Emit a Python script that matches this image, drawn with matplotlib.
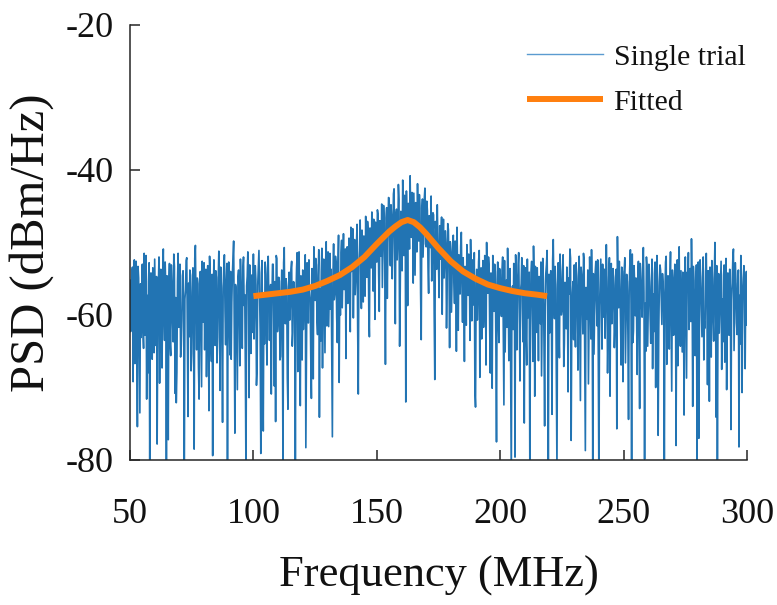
import numpy as np
import matplotlib
matplotlib.use("Agg")
import matplotlib.pyplot as plt

plt.rcParams["font.family"] = ["Liberation Serif", "DejaVu Serif"]
plt.rcParams["axes.unicode_minus"] = False

# Single-trial power spectral density (dBm/Hz), 0.25 MHz bins from 50 to 300 MHz
psd_single = [
    -55.2, -62.3, -61.8, -54.1, -53.4, -69.2, -57.9, -52.4, -66.7, -56.5, -52.6, -61.0, -75.4, -53.3, -54.9, -64.9, -73.5, -55.7, -63.1, -59.4,
    -53.0, -62.1, -64.6, -51.5, -62.8, -55.0, -51.8, -71.6, -57.3, -68.0, -55.4, -52.8, -81.0, -57.2, -54.2, -63.0, -66.1, -53.5, -56.8, -65.2,
    -52.3, -58.0, -64.2, -54.7, -77.8, -61.3, -55.9, -52.0, -69.4, -58.5, -53.7, -62.4, -67.3, -54.3, -50.9, -59.9, -63.5, -52.7, -56.3, -80.6,
    -54.6, -59.1, -77.2, -55.8, -52.9, -63.9, -65.6, -53.1, -55.6, -60.9, -63.7, -51.6, -53.3, -70.8, -57.6, -72.1, -67.9, -55.3, -51.5, -61.7,
    -58.2, -53.0, -65.8, -64.4, -60.7, -54.6, -53.9, -59.5, -84.0, -57.8, -56.6, -52.5, -52.1, -62.9, -74.0, -55.6, -63.0, -53.8, -54.5, -67.7,
    -65.3, -56.9, -53.5, -61.6, -78.5, -52.2, -50.4, -59.0, -64.8, -54.9, -55.7, -67.2, -71.6, -55.1, -54.0, -62.0, -69.9, -52.6, -61.0, -56.4,
    -52.8, -64.8, -56.9, -53.7, -68.5, -58.6, -53.2, -61.4, -73.2, -51.9, -55.3, -63.5, -66.4, -54.4, -79.4, -57.5, -52.4, -60.0, -64.2, -53.9,
    -54.8, -66.6, -63.1, -55.2, -51.2, -59.7, -70.4, -53.4, -56.0, -62.2, -74.8, -56.3, -53.6, -51.7, -59.4, -64.1, -55.5, -52.9, -82.8, -57.0,
    -52.7, -60.8, -65.5, -54.0, -66.1, -58.3, -54.3, -52.1, -49.8, -61.9, -76.3, -55.8, -56.4, -63.6, -70.3, -54.7, -53.8, -59.2, -67.0, -52.3,
    -55.8, -61.4, -64.6, -53.6, -52.0, -58.7, -57.2, -67.5, -82.5, -56.0, -54.7, -51.3, -59.2, -71.4, -53.1, -56.9, -65.3, -54.5, -56.7, -62.4,
    -51.6, -63.3, -58.7, -53.2, -55.1, -69.7, -67.4, -55.9, -53.4, -51.1, -57.0, -62.5, -79.1, -54.2, -52.5, -65.5, -76.0, -57.1, -64.0, -52.7,
    -54.4, -61.8, -66.9, -53.5, -51.9, -58.2, -63.5, -56.6, -55.8, -70.9, -58.1, -53.0, -53.0, -60.5, -69.8, -55.4, -74.7, -51.8, -52.2, -62.3,
    -60.6, -54.8, -55.3, -66.2, -65.7, -57.3, -53.8, -63.0, -81.4, -52.8, -50.7, -61.1, -61.2, -55.0, -56.5, -68.7, -73.0, -56.1, -54.1, -60.7,
    -58.5, -53.7, -52.6, -64.3, -62.4, -55.4, -55.6, -59.0, -80.2, -57.6, -53.5, -51.4, -67.8, -62.8, -51.3, -58.9, -72.5, -54.6, -55.0, -66.2,
    -53.8, -62.0, -59.3, -54.9, -51.7, -78.3, -64.9, -52.8, -55.0, -61.1, -52.4, -56.7, -57.6, -65.9, -71.5, -53.6, -54.2, -68.8, -50.6, -56.0,
    -58.0, -52.2, -53.1, -60.9, -62.7, -54.5, -51.0, -74.1, -56.4, -63.6, -54.0, -50.8, -67.3, -55.6, -52.3, -58.9, -65.2, -53.0, -49.9, -61.5,
    -55.2, -51.3, -61.6, -56.2, -51.5, -59.2, -53.7, -64.6, -76.8, -54.4, -50.2, -57.9, -57.1, -51.9, -52.8, -60.3, -63.8, -53.4, -49.0, -69.3,
    -54.6, -60.0, -51.4, -49.7, -59.0, -53.6, -48.8, -56.5, -55.7, -50.9, -66.0, -52.1, -50.6, -58.4, -53.3, -49.4, -57.8, -62.3, -47.9, -54.0,
    -52.5, -48.1, -60.4, -53.8, -49.6, -57.2, -55.1, -50.3, -47.5, -61.9, -70.9, -52.9, -51.0, -46.9, -53.9, -59.1, -48.3, -51.8, -58.2, -49.1,
    -50.9, -57.4, -46.4, -51.2, -54.8, -47.1, -48.6, -59.3, -63.0, -48.0, -49.2, -53.5, -45.8, -50.0, -56.7, -46.8, -51.6, -60.6, -47.2, -52.4,
    -52.7, -45.5, -46.1, -54.3, -59.5, -47.0, -48.0, -51.9, -44.7, -56.2, -50.4, -44.9, -47.3, -53.1, -66.8, -46.6, -45.2, -57.7, -49.7, -43.8,
    -43.9, -49.5, -53.2, -44.8, -46.5, -55.0, -48.9, -43.3, -42.6, -51.7, -61.2, -46.2, -45.4, -52.4, -50.0, -42.0, -44.1, -64.3, -56.4, -45.7,
    -47.6, -53.9, -41.4, -45.9, -51.8, -43.5, -45.0, -72.0, -42.9, -48.3, -58.7, -44.6, -46.8, -50.9, -40.8, -47.2, -49.3, -43.1, -44.3, -55.6,
    -43.2, -49.0, -54.5, -44.5, -46.0, -51.3, -41.9, -47.7, -49.8, -43.4, -45.3, -56.9, -63.4, -45.8, -44.0, -52.0, -47.9, -43.9, -42.5, -50.2,
    -50.6, -44.3, -45.6, -53.4, -57.0, -46.3, -47.4, -50.7, -43.6, -55.3, -52.2, -45.9, -46.2, -59.8, -68.9, -47.1, -48.7, -53.7, -44.8, -49.6,
    -53.0, -57.6, -47.7, -52.3, -49.5, -46.5, -59.9, -51.4, -46.8, -54.9, -52.6, -48.4, -50.1, -61.8, -55.8, -47.4, -48.2, -53.3, -64.5, -49.9,
    -51.2, -59.6, -54.7, -50.1, -49.0, -55.5, -58.4, -49.8, -52.0, -65.0, -47.9, -53.9, -62.1, -51.7, -53.6, -57.1, -50.5, -48.6, -56.0, -61.0,
    -52.1, -56.9, -66.4, -53.3, -54.9, -61.4, -50.3, -55.8, -57.3, -51.6, -53.0, -63.5, -49.6, -54.3, -60.8, -52.4, -55.4, -58.6, -51.4, -70.4,
    -72.7, -55.7, -53.7, -60.7, -57.6, -52.6, -51.1, -68.6, -55.9, -53.5, -63.3, -56.4, -52.5, -61.7, -58.9, -51.8, -54.4, -66.9, -50.0, -56.8,
    -57.0, -52.0, -53.2, -62.2, -68.0, -54.2, -55.3, -70.1, -51.8, -56.1, -59.5, -53.0, -54.0, -64.0, -77.5, -55.9, -52.7, -60.9, -63.8, -53.6,
    -54.3, -59.0, -60.2, -53.9, -52.0, -63.1, -72.4, -52.5, -65.1, -58.0, -55.2, -61.7, -50.8, -56.2, -66.3, -54.6, -53.6, -67.8, -83.0, -57.0,
    -56.0, -62.0, -52.9, -55.8, -79.6, -51.7, -54.5, -64.8, -57.8, -53.1, -51.4, -59.3, -69.1, -56.6, -55.7, -52.1, -59.0, -63.7, -53.2, -74.9,
    -57.3, -53.5, -62.9, -66.9, -52.3, -60.4, -56.4, -54.1, -80.8, -61.6, -54.0, -52.6, -58.3, -66.4, -50.5, -55.2, -71.2, -53.3, -55.5, -62.4,
    -53.5, -57.2, -66.3, -54.7, -57.7, -61.2, -52.7, -68.4, -59.6, -52.2, -55.1, -64.2, -75.3, -58.9, -54.2, -53.0, -51.1, -60.1, -81.9, -54.4,
    -62.5, -55.0, -53.9, -59.8, -73.7, -52.4, -49.6, -57.3, -60.5, -53.3, -55.8, -68.5, -81.5, -56.4, -52.8, -62.0, -65.9, -51.6, -54.8, -60.0,
    -59.3, -54.0, -51.7, -67.1, -64.0, -55.5, -56.2, -61.9, -53.4, -57.6, -70.6, -54.9, -57.1, -50.9, -52.2, -77.3, -61.1, -56.9, -55.4, -63.4,
    -53.1, -61.0, -64.4, -52.8, -55.0, -59.7, -67.6, -54.6, -51.9, -62.7, -71.8, -53.4, -54.4, -58.9, -62.6, -51.5, -52.5, -65.7, -78.7, -56.2,
    -56.5, -60.6, -53.8, -69.5, -60.0, -52.0, -55.6, -63.3, -51.0, -56.8, -80.4, -54.3, -65.4, -59.5, -54.1, -52.6, -57.9, -61.5, -52.4, -66.0,
    -84.5, -58.7, -55.3, -52.3, -59.7, -64.7, -53.0, -60.3, -56.8, -53.7, -63.2, -57.3, -50.3, -55.4, -68.0, -62.1, -54.7, -52.1, -71.2, -56.0,
    -52.9, -61.2, -58.1, -53.6, -55.9, -64.5, -61.7, -54.8, -53.7, -75.7, -49.2, -55.8, -59.0, -52.6, -56.1, -60.7, -66.9, -53.4, -54.0, -69.2,
    -57.2, -53.8, -52.1, -66.6, -60.6, -54.4, -55.4, -62.9, -74.4, -56.7, -53.3, -51.0, -58.5, -82.1, -51.6, -63.8, -62.2, -53.2, -56.3, -60.1,
    -54.9, -59.8, -68.2, -55.0, -52.6, -61.5, -72.9, -52.9, -55.2, -58.3, -60.3, -53.6, -50.7, -56.9, -79.9, -58.4, -65.0, -52.0, -53.5, -64.3,
    -59.1, -53.0, -55.5, -60.2, -63.9, -56.1, -52.3, -67.4, -57.1, -62.3, -54.3, -52.7, -70.0, -57.5, -51.8, -55.4, -76.6, -61.9, -56.0, -53.1,
    -53.9, -57.4, -61.3, -54.3, -55.7, -59.6, -82.2, -56.9, -52.7, -51.9, -66.8, -63.5, -54.6, -58.6, -64.7, -55.1, -51.3, -60.6, -70.5, -53.8,
    -55.1, -62.8, -60.7, -53.0, -53.3, -78.0, -57.5, -52.4, -67.0, -55.6, -50.6, -59.9, -64.3, -53.9, -59.5, -65.1, -54.1, -57.8, -73.8, -55.2,
    -52.0, -60.4, -68.7, -54.1, -55.8, -51.4, -62.0, -56.8, -53.6, -60.9, -49.5, -55.1, -72.6, -53.3, -55.3, -61.4, -65.6, -56.5, -53.1, -80.1,
    -56.9, -52.7, -77.0, -58.3, -52.4, -56.1, -59.8, -63.0, -54.8, -52.0, -66.2, -60.9, -61.8, -54.0, -51.5, -57.9, -69.6, -53.9, -55.6, -71.9,
    -53.4, -56.3, -65.8, -52.5, -55.0, -60.8, -63.6, -54.9, -50.0, -57.7, -74.1, -53.2, -81.8, -58.9, -54.3, -62.5, -59.3, -55.6, -52.6, -67.5,
    -57.8, -63.7, -54.5, -53.1, -66.5, -57.0, -52.2, -70.3, -56.2, -54.2, -60.4, -62.8, -53.7, -56.5, -75.8, -58.0, -55.5, -52.3, -50.9, -64.9,
    -58.6, -52.8, -55.2, -61.1, -62.7, -55.7, -53.8, -78.2, -57.3, -64.0, -51.8, -56.3, -70.7, -57.8, -54.9, -53.2, -59.6, -67.4, -56.1, -54.0,
    -61.4,
]
freq_start_mhz = 50.0
freq_stop_mhz = 300.0

# Lorentzian fit to the resonance
fit_freq = [100, 105, 110, 115, 120, 125, 130, 135, 140, 145, 150, 155, 157.5,
            160, 162.5, 165, 167.5, 170, 175, 180, 185, 190, 195, 200, 205,
            210, 215, 219]
fit_psd = [-57.4, -57.2, -57.0, -56.8, -56.5, -56.0, -55.3, -54.5, -53.4,
           -52.0, -50.2, -48.5, -47.8, -47.2, -46.9, -47.2, -47.9, -48.8,
           -50.8, -52.6, -54.0, -55.0, -55.8, -56.3, -56.7, -57.0, -57.2,
           -57.4]

x_ticks = [50, 100, 150, 200, 250, 300]
y_ticks = [-80, -60, -40, -20]

freq = np.linspace(freq_start_mhz, freq_stop_mhz, len(psd_single))

fig = plt.figure(figsize=(7.77, 6.05), dpi=100)
ax = fig.add_axes([0.1673, 0.2397, 0.7941, 0.719])

ax.plot(freq, psd_single, color="#2274b3", lw=1.2, label="Single trial")
ax.plot(fit_freq, fit_psd, color="#ff7f0e", lw=4.3, solid_capstyle="butt",
        label="Fitted")

ax.set_xlim(50, 300)
ax.set_ylim(-80, -20)
ax.set_xticks(x_ticks)
ax.set_yticks(y_ticks)

for side in ("top", "right"):
    ax.spines[side].set_visible(False)
for side in ("left", "bottom"):
    ax.spines[side].set_color("#262626")
    ax.spines[side].set_linewidth(1.1)

ax.tick_params(axis="both", direction="in", length=7, width=1.1,
               color="#262626", labelsize=26, labelcolor="#111111")
ax.tick_params(axis="x", pad=27.5)
ax.tick_params(axis="y", pad=12)

ax.set_xlabel("Frequency (MHz)", fontsize=32, color="#111111")
ax.xaxis.set_label_coords(0.5, (460 - 556) / 435)
ax.set_ylabel("PSD (dBm/Hz)", fontsize=35, color="#111111")
ax.yaxis.set_label_coords((54 - 130) / 617, 0.5)

leg = ax.legend(loc="upper left", bbox_to_anchor=(527 / 777, 1 - 44 / 605),
                bbox_transform=fig.transFigure, frameon=False, fontsize=21.5,
                handlelength=2.55, handletextpad=0.35, labelspacing=0.6,
                borderpad=0, borderaxespad=0)
leg.get_lines()[0].set_linewidth(1.0)
leg.get_lines()[0].set_color("#5b9bd0")
for t in leg.get_texts():
    t.set_color("#111111")

fig.savefig("out.png", dpi=100)
